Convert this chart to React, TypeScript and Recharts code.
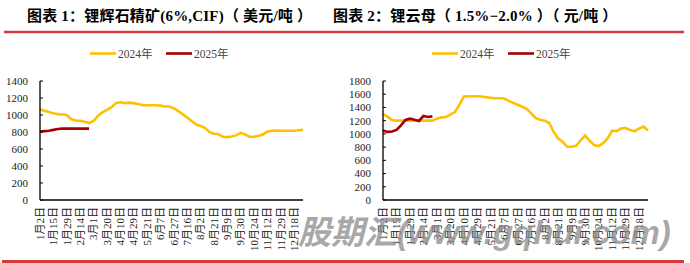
import React from "react";
import { LineChart, Line, XAxis, YAxis } from "recharts";

const dateLabels = [
  "1月2日", "1月15日", "1月29日", "2月14日", "3月1日", "3月20日", "4月10日", "4月29日",
  "5月21日", "6月7日", "6月27日", "7月16日", "8月2日", "8月21日", "9月9日", "9月30日",
  "10月24日", "11月12日", "11月29日", "12月18日",
];
const pointsPerLabel = 3;

const spodumene2024 = [
  1065, 1050, 1035, 1020, 1010, 1005, 1000, 950, 935, 933, 920, 905, 930, 990, 1030,
  1060, 1090, 1140, 1150, 1140, 1145, 1140, 1130, 1115, 1115, 1115, 1115, 1110, 1100, 1100,
  1080, 1045, 1010, 970, 930, 890, 870, 850, 800, 780, 775, 745, 740, 748, 760,
  790, 770, 745, 745, 752, 770, 805, 815, 818, 815, 815, 815, 815, 820, 827,
];
const spodumene2025 = [805, 810, 815, 825, 835, 840, 840, 840, 840, 840, 840, 840];

const lepidolite2024 = [
  1300, 1260, 1210, 1200, 1200, 1200, 1200, 1200, 1200, 1200, 1200, 1200, 1230, 1250, 1255,
  1290, 1330, 1440, 1565, 1570, 1570, 1570, 1565, 1555, 1545, 1540, 1540, 1535, 1500, 1470,
  1440, 1410, 1380, 1310, 1240, 1215, 1200, 1165, 1030, 930, 880, 805, 805, 820, 900,
  975, 900, 830, 815, 860, 930, 1050, 1040, 1080, 1090, 1060, 1040, 1080, 1110, 1050,
];
const lepidolite2025 = [1050, 1030, 1035, 1060, 1130, 1210, 1230, 1215, 1195, 1270, 1255, 1265];

const spodumeneTicks = [0, 200, 400, 600, 800, 1000, 1200, 1400];
const lepidoliteTicks = [0, 200, 400, 600, 800, 1000, 1200, 1400, 1600, 1800];

const buildRows = (a: number[], b: number[]) =>
  a.map((v, i) => ({ i, y2024: v, y2025: i < b.length ? b[i] : undefined }));

const spodumeneRows = buildRows(spodumene2024, spodumene2025);
const lepidoliteRows = buildRows(lepidolite2024, lepidolite2025);
const xTicks = dateLabels.map((_, k) => k * pointsPerLabel);

const YELLOW = "#FFC000";
const RED = "#A50000";
const SERIF = "'Liberation Serif', 'Noto Sans CJK SC', serif";
const TITLE_FONT = "'Liberation Serif', 'Noto Sans CJK SC', serif";

const makeYTick = (axisX: number) => (props: any) => {
  const { y, payload } = props;
  return (
    <g>
      <line x1={axisX} x2={axisX + 3} y1={y} y2={y} stroke="#000" strokeWidth={1} />
      <text x={axisX - 12} y={y} dy="0.35em" textAnchor="end" fontSize={11} fontFamily={SERIF} fill="#222">
        {payload.value}
      </text>
    </g>
  );
};

const XTick = (props: any) => {
  const { x, payload } = props;
  const label = dateLabels[Math.round(payload.value / pointsPerLabel)];
  return (
    <text
      transform={`translate(${x},207) rotate(-90)`}
      x={0}
      y={0}
      dy="0.35em"
      textAnchor="end"
      fontSize={11}
      fontFamily={SERIF}
      fill="#222"
    >
      {label}
    </text>
  );
};

const Chart = ({ rows, yMax, yTicks, axisW }: { rows: any[]; yMax: number; yTicks: number[]; axisW: number }) => (
  <LineChart width={345} height={263} data={rows} margin={{ top: 81, right: 42, bottom: 0, left: 0 }}>
    <XAxis
      type="number"
      dataKey="i"
      domain={[0, 59]}
      ticks={xTicks}
      interval={0}
      tick={<XTick />}
      tickLine={false}
      height={63}
      axisLine={{ stroke: "#000", strokeWidth: 1.3 }}
    />
    <YAxis
      type="number"
      domain={[0, yMax]}
      ticks={yTicks}
      interval={0}
      width={axisW}
      tick={makeYTick(axisW)}
      tickLine={false}
      axisLine={{ stroke: "#000", strokeWidth: 1.3 }}
    />
    <Line type="linear" dataKey="y2024" stroke={YELLOW} strokeWidth={2.6} dot={false} isAnimationActive={false} />
    <Line type="linear" dataKey="y2025" stroke={RED} strokeWidth={2.6} dot={false} isAnimationActive={false} />
  </LineChart>
);

const LegendItems = ({ x }: { x: number }) => (
  <g>
    <line x1={x} x2={x + 26} y1={53.5} y2={53.5} stroke={YELLOW} strokeWidth={2.6} />
    <text x={x + 28} y={57.5} fontSize={11.5} fontFamily={SERIF} fill="#444">2024年</text>
    <line x1={x + 76} x2={x + 102} y1={53.5} y2={53.5} stroke={RED} strokeWidth={2.6} />
    <text x={x + 104} y={57.5} fontSize={11.5} fontFamily={SERIF} fill="#444">2025年</text>
  </g>
);

export default function App() {
  return (
    <div style={{ position: "absolute", left: 0, top: 0, width: 690, height: 263, background: "#fff", overflow: "hidden" }}>
      <svg width={690} height={263} style={{ position: "absolute", left: 0, top: 0 }}>
        <text x={27} y={20.5} fontSize={15} fontWeight="bold" fontFamily={TITLE_FONT} fill="#000" letterSpacing={0.2}>
          图表 1：锂辉石精矿(6%,CIF)（ 美元/吨 ）
        </text>
        <text x={333} y={20.5} fontSize={15} fontWeight="bold" fontFamily={TITLE_FONT} fill="#000" letterSpacing={0.2}>
          图表 2：锂云母（ 1.5%−2.0% ）（ 元/吨 ）
        </text>
        <line x1={4} x2={684} y1={32} y2={32} stroke="#D43C3C" strokeWidth={2.6} />
        <line x1={2} x2={684} y1={261.5} y2={261.5} stroke="#D43C3C" strokeWidth={3} />
        <LegendItems x={90} />
        <LegendItems x={432} />
      </svg>
      <div style={{ position: "absolute", left: 0, top: 0 }}>
        <Chart rows={spodumeneRows} yMax={1400} yTicks={spodumeneTicks} axisW={40} />
      </div>
      <div style={{ position: "absolute", left: 345, top: 0 }}>
        <Chart rows={lepidoliteRows} yMax={1800} yTicks={lepidoliteTicks} axisW={38} />
      </div>
      <svg width={690} height={263} style={{ position: "absolute", left: 0, top: 0, pointerEvents: "none" }}>
        <text
          x={298}
          y={244}
          fontSize={33}
          fontWeight="bold"
          fontStyle="italic"
          fontFamily="'Liberation Sans', 'Noto Sans CJK SC', sans-serif"
          fill="#8c8c8c"
          fillOpacity={0.75}
        >
          股期汇(www.gqhui.com)
        </text>
      </svg>
    </div>
  );
}
